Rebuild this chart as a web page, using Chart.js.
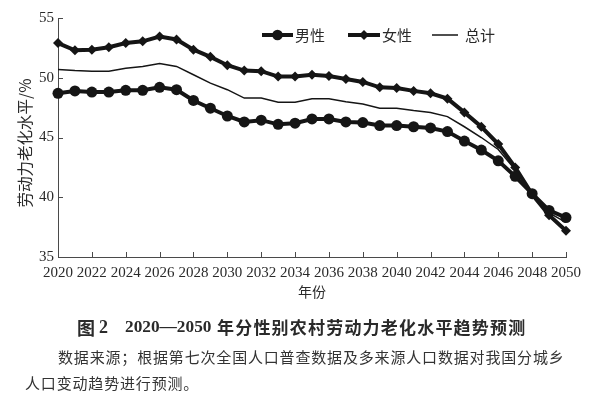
<!DOCTYPE html>
<html><head><meta charset="utf-8">
<script src="https://cdn.jsdelivr.net/npm/chart.js@4.4.1/dist/chart.umd.min.js"></script>
<style>
html,body{margin:0;padding:0;background:#fff;}
#wrap{position:relative;width:600px;height:399px;overflow:hidden;}
#c{position:absolute;left:0;top:0;}
.t{position:absolute;white-space:nowrap;color:#2a2a2a;}
.cap{top:315px;line-height:24px;font-weight:bold;font-size:18px;}
.cj{font-family:"Noto Sans CJK SC";}
.ser{font-family:"Liberation Serif";}
.src{font:15px "Noto Sans CJK SC";line-height:22px;letter-spacing:0.83px;color:#333;}
</style></head>
<body><div id="wrap"><canvas id="c" width="600" height="399"></canvas>
<div class="t cap cj" style="left:77px">图</div>
<div class="t cap ser" style="left:99px">2</div>
<div class="t cap ser" style="left:125px;font-size:17.3px">2020—2050</div>
<div class="t cap cj" style="left:217px;font-size:17px;letter-spacing:1.2px">年分性别农村劳动力老化水平趋势预测</div>
<div class="t src" style="left:58px;top:346px">数据来源；根据第七次全国人口普查数据及多来源人口数据对我国分城乡</div>
<div class="t src" style="left:25px;top:372px">人口变动趋势进行预测。</div>
</div>
<script>
const years = [2020,2021,2022,2023,2024,2025,2026,2027,2028,2029,2030,2031,2032,2033,2034,2035,2036,2037,2038,2039,2040,2041,2042,2043,2044,2045,2046,2047,2048,2049,2050];
const male = [48.7,48.9,48.8,48.8,48.95,48.95,49.2,49.0,48.1,47.45,46.8,46.3,46.45,46.1,46.2,46.55,46.55,46.3,46.25,46.0,46.0,45.9,45.8,45.5,44.7,43.95,43.05,41.75,40.3,38.9,38.3];
const female = [52.9,52.3,52.35,52.55,52.9,53.05,53.45,53.2,52.35,51.75,51.05,50.6,50.55,50.1,50.1,50.25,50.15,49.9,49.65,49.2,49.15,48.9,48.7,48.25,47.1,45.9,44.45,42.5,40.25,38.5,37.2];
const total = [50.7,50.6,50.55,50.55,50.8,50.95,51.2,50.95,50.25,49.55,49.0,48.3,48.3,47.95,47.95,48.25,48.25,48.0,47.8,47.45,47.45,47.25,47.1,46.75,45.9,45.0,44.0,42.3,40.3,38.7,37.9];
const seriesNames = ['男性','女性','总计'];
const xTickYears = [2020,2022,2024,2026,2028,2030,2032,2034,2036,2038,2040,2042,2044,2046,2048,2050];
const yTickValues = [35,40,45,50,55];
const yTitle = '劳动力老化水平/%';
const xTitle = '年份';

const pts = arr => years.map((y,i)=>({x:y,y:arr[i]}));
const INK = '#151515';
const AX = '#4a4a4a';
const TXT = '#2a2a2a';

const innerTicks = {
  id:'innerTicks',
  afterDraw(chart){
    const {ctx, scales:{x,y}} = chart;
    ctx.save();
    ctx.strokeStyle = AX; ctx.lineWidth = 1;
    xTickYears.forEach(v=>{
      const px = Math.round(x.getPixelForValue(v))+0.5;
      ctx.beginPath(); ctx.moveTo(px, y.bottom); ctx.lineTo(px, y.bottom-5); ctx.stroke();
    });
    yTickValues.forEach(v=>{
      const py = Math.round(y.getPixelForValue(v))+0.5;
      ctx.beginPath(); ctx.moveTo(x.left, py); ctx.lineTo(x.left+5, py); ctx.stroke();
    });
    ctx.translate(25, 143);
    ctx.rotate(-Math.PI/2);
    ctx.fillStyle = TXT;
    ctx.font = '15.5px "Noto Sans CJK SC"';
    ctx.textAlign = 'center'; ctx.textBaseline = 'middle';
    ctx.fillText(yTitle, 0, 0);
    ctx.restore();
  }
};

const legendPlugin = {
  id:'customLegend',
  afterDraw(chart){
    const ctx = chart.ctx;
    const ly = 35;
    const items = [
      {x0:262,x1:293,tx:295,style:'circle',w:4,name:seriesNames[0]},
      {x0:348,x1:380,tx:382,style:'diamond',w:4,name:seriesNames[1]},
      {x0:432,x1:458,tx:465,style:null,w:1.5,name:seriesNames[2]}
    ];
    ctx.save();
    items.forEach(it=>{
      ctx.strokeStyle = INK; ctx.lineWidth = it.w;
      ctx.beginPath(); ctx.moveTo(it.x0,ly); ctx.lineTo(it.x1,ly); ctx.stroke();
      const cx = (it.x0+it.x1)/2;
      ctx.fillStyle = INK;
      if(it.style==='circle'){ ctx.beginPath(); ctx.arc(cx,ly,5.3,0,Math.PI*2); ctx.fill(); }
      if(it.style==='diamond'){ ctx.beginPath(); ctx.moveTo(cx,ly-5); ctx.lineTo(cx+5,ly); ctx.lineTo(cx,ly+5); ctx.lineTo(cx-5,ly); ctx.closePath(); ctx.fill(); }
      ctx.fillStyle = TXT;
      ctx.font = '15px "Noto Sans CJK SC"';
      ctx.textBaseline = 'middle';
      ctx.fillText(it.name, it.tx, ly);
    });
    ctx.restore();
  }
};

new Chart(document.getElementById('c'), {
  type:'line',
  data:{datasets:[
    {label:seriesNames[0], data:pts(male), borderColor:INK, backgroundColor:INK, borderWidth:4, pointStyle:'circle', pointRadius:5.5, pointHoverRadius:5.5, pointBorderWidth:0, tension:0, clip:false},
    {label:seriesNames[1], data:pts(female), borderColor:INK, backgroundColor:INK, borderWidth:4, pointStyle:'rectRot', pointRadius:5, pointHoverRadius:5, pointBorderWidth:0, tension:0, clip:false},
    {label:seriesNames[2], data:pts(total), borderColor:INK, backgroundColor:INK, borderWidth:1.5, pointRadius:0, tension:0, clip:false}
  ]},
  options:{
    responsive:false, animation:false, devicePixelRatio:1,
    layout:{padding:{top:18,left:0,right:34,bottom:97}},
    plugins:{legend:{display:false}, tooltip:{enabled:false}},
    scales:{
      x:{type:'linear', min:2020, max:2050,
        afterFit(s){ s.height = 45; },
        grid:{display:false, drawTicks:false},
        border:{display:true, color:AX, width:1},
        ticks:{stepSize:2, padding:7, color:TXT, font:{family:'"Liberation Serif"', size:15}, maxRotation:0, autoSkip:false, callback:v=>String(v)},
        title:{display:true, text:xTitle, color:TXT, font:{family:'"Noto Sans CJK SC"', size:14}, padding:{top:0,bottom:2}}
      },
      y:{min:35, max:55,
        afterFit(s){ s.width = 58; },
        grid:{display:false, drawTicks:false},
        border:{display:true, color:AX, width:1},
        ticks:{stepSize:5, padding:4, color:TXT, font:{family:'"Liberation Serif"', size:15}},
        title:{display:false}
      }
    }
  },
  plugins:[innerTicks, legendPlugin]
});
</script></body></html>
